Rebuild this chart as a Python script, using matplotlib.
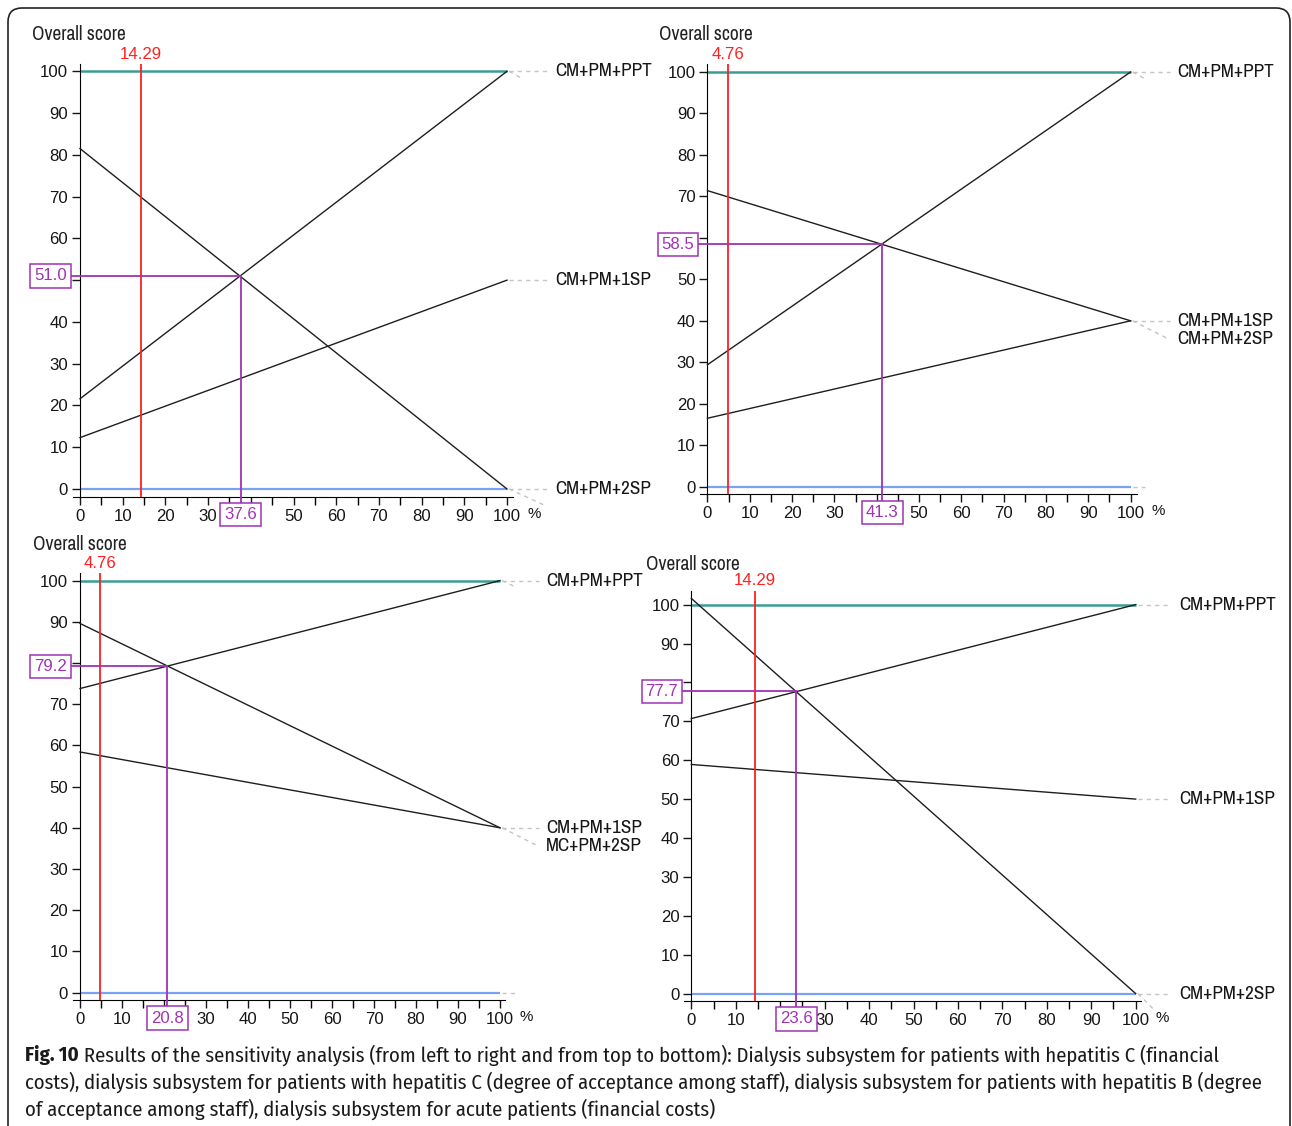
import matplotlib
matplotlib.use('Agg')
import matplotlib.pyplot as plt
from matplotlib import font_manager
from matplotlib.patches import FancyBboxPatch
from matplotlib.transforms import IdentityTransform

# ---- values ----
alternatives = [
    ['CM+PM+PPT', 'CM+PM+1SP', 'CM+PM+2SP'],
    ['CM+PM+PPT', 'CM+PM+1SP', 'CM+PM+2SP'],
    ['CM+PM+PPT', 'CM+PM+1SP', 'MC+PM+2SP'],
    ['CM+PM+PPT', 'CM+PM+1SP', 'CM+PM+2SP'],
]
# overall score at 0 % weight and at 100 % weight
scores_at_0 = [
    [21.6, 12.3, 81.5],
    [29.4, 71.4, 16.5],
    [73.8, 58.4, 89.6],
    [70.7, 58.9, 101.6],
]
scores_at_100 = [
    [100, 50, 0],
    [100, 40, 40],
    [100, 40, 40],
    [100, 50, 0],
]
current_weight = [14.29, 4.76, 4.76, 14.29]
current_weight_labels = ['14.29', '4.76', '4.76', '14.29']
switch_weight = [37.6, 41.3, 20.8, 23.6]
switch_score = [51.0, 58.5, 79.2, 77.7]
best_score = 100
worst_score = 0
x_ticks = list(range(0, 101, 10))
y_ticks = list(range(0, 101, 10))

caption_bold = 'Fig. 10'
caption_lines = [
    ' Results of the sensitivity analysis (from left to right and from top to bottom): Dialysis subsystem for patients with hepatitis C (financial',
    'costs), dialysis subsystem for patients with hepatitis C (degree of acceptance among staff), dialysis subsystem for patients with hepatitis B (degree',
    'of acceptance among staff), dialysis subsystem for acute patients (financial costs)',
]

# ---- layout (pixels of the 1292x1126 picture) ----
W, H = 1292, 1126
panels = [
    dict(x0=80, sx=4.27, y0=489, sy=4.177, xlim=(-1.7, 101.5), ylim=(-1.9, 101.7),
         lab_x=111.2, lab_y=[100, 50, 0], title=(32, 35),
         stubs=[(100, 103.5, 98.3), (0, 109, -4)]),
    dict(x0=707.4, sx=4.232, y0=486.7, sy=4.147, xlim=(-1.7, 101.5), ylim=(-1.8, 101.9),
         lab_x=111.0, lab_y=[100, 40, 35.5], title=(659, 35),
         stubs=[(100, 103.5, 98.3), (0, 103.5, 0)]),
    dict(x0=80, sx=4.2, y0=992.6, sy=4.12, xlim=(-1.7, 101.2), ylim=(-1.8, 101.8),
         lab_x=111.0, lab_y=[100, 40, 35.5], title=(33, 545),
         stubs=[(100, 104, 98.3), (0, 103.5, 0)]),
    dict(x0=691.3, sx=4.444, y0=993.6, sy=3.89, xlim=(-1.7, 101.2), ylim=(-1.9, 103.5),
         lab_x=109.7, lab_y=[100, 50, 0], title=(646, 564),
         stubs=[(0, 104, -4)]),
]

have = {f.name for f in font_manager.fontManager.ttflist}
narrow_font = [f for f in ['Archivo Narrow', 'PT Sans Narrow', 'Roboto Condensed'] if f in have][:1] + ['DejaVu Sans']
digit_font = ['Liberation Sans', 'DejaVu Sans']
cap_font = [f for f in ['Fira Sans Condensed', 'PT Sans Narrow'] if f in have][:1] + ['DejaVu Sans']
plt.rcParams['font.family'] = digit_font

TEAL = '#3a9c96'
BLUE = '#7aa2f4'
RED = '#ff2020'
PURPLE = '#a032b4'
LEADER = '#c4c4c4'
INK = '#161616'

fig = plt.figure(figsize=(W / 100, H / 100), dpi=100)
renderer = fig.canvas.get_renderer()


def fit_size(text, width, **kw):
    t = fig.text(0, 0, text, fontsize=12, **kw)
    w = t.get_window_extent(renderer).width
    t.remove()
    return 12 * width / w


fs_lab = fit_size('CM+PM+PPT', 97, family=narrow_font)
fs_title = fit_size('Overall score', 94, family=narrow_font)
fs_num = fit_size('100', 28, family=digit_font)

for i, g in enumerate(panels):
    left = g['x0'] + g['xlim'][0] * g['sx']
    right = g['x0'] + g['xlim'][1] * g['sx']
    bottom = g['y0'] - g['ylim'][0] * g['sy']
    top = g['y0'] - g['ylim'][1] * g['sy']
    ax = fig.add_axes([left / W, 1 - bottom / H, (right - left) / W, (bottom - top) / H])
    ax.set_xlim(g['xlim'])
    ax.set_ylim(g['ylim'])
    ax.patch.set_alpha(0)
    ax.spines['top'].set_visible(False)
    ax.spines['right'].set_visible(False)
    ax.spines['left'].set_position(('data', 0))

    xs, ys = switch_weight[i], switch_score[i]
    # tick labels hidden under the switch-point boxes are left out
    hide_x = min(x_ticks, key=lambda t: abs(t - xs))
    hide_y = min(y_ticks, key=lambda t: abs(t - ys))
    ax.set_xticks(x_ticks, ['' if t == hide_x else str(t) for t in x_ticks])
    ax.set_xticks([t + 5 for t in x_ticks[:-1]], minor=True)
    ax.set_yticks(y_ticks, ['' if t == hide_y else str(t) for t in y_ticks])
    ax.tick_params(direction='out', length=5.5, width=1, labelsize=fs_num, pad=3,
                   colors=INK)
    ax.tick_params(which='minor', length=5.5, width=1)

    # reference lines (best / worst)
    ax.hlines(best_score, 0, 100, color=TEAL, lw=1.8, zorder=2)
    ax.hlines(worst_score, 0, 100, color=BLUE, lw=1.6, zorder=2)

    # alternatives
    for name, s0, s1, ly in zip(alternatives[i], scores_at_0[i], scores_at_100[i], g['lab_y']):
        ax.plot([0, 100], [s0, s1], color='#1e1e1e', lw=1.0, zorder=3)
        ax.plot([100.5, g['lab_x'] - 1.8], [s1, ly], color=LEADER, lw=1, ls=(0, (3, 3)),
                clip_on=False)
        ax.text(g['lab_x'], ly, name, ha='left', va='center', fontsize=fs_lab, color=INK,
                family=narrow_font, clip_on=False)
    for y_from, x_to, y_to in g['stubs']:
        ax.plot([100.5, x_to], [y_from, y_to], color=LEADER, lw=1, ls=(0, (3, 3)), clip_on=False)

    ax.annotate('%', xy=(g['xlim'][1], g['ylim'][0]), xytext=(21, -17),
                textcoords='offset pixels', ha='center', va='center', fontsize=fs_num * 0.9,
                color=INK, annotation_clip=False)

    # current weight
    ax.axvline(current_weight[i], color=RED, lw=1.3, zorder=4)
    ax.annotate(current_weight_labels[i], xy=(current_weight[i], g['ylim'][1]),
                xytext=(0, 10), textcoords='offset pixels', ha='center', va='center',
                color=RED, fontsize=fs_num, annotation_clip=False)

    # switch point
    ax.plot([-2.2, xs], [ys, ys], color=PURPLE, lw=1.3, zorder=4, clip_on=False)
    ax.plot([xs, xs], [ys, g['ylim'][0] - 2], color=PURPLE, lw=1.3, zorder=4, clip_on=False)
    box = dict(boxstyle='square,pad=0.24', fc='white', ec=PURPLE, lw=1.1)
    ax.annotate('%.1f' % ys, xy=(0, ys), xytext=(-13, 0), textcoords='offset pixels',
                ha='right', va='center', color=PURPLE, fontsize=fs_num, bbox=box,
                zorder=6, annotation_clip=False)
    ax.annotate('%.1f' % xs, xy=(xs, g['ylim'][0]), xytext=(0, -18), textcoords='offset pixels',
                ha='center', va='center', color=PURPLE, fontsize=fs_num, bbox=box,
                zorder=6, annotation_clip=False)

    fig.text(g['title'][0] / W, 1 - g['title'][1] / H, 'Overall score', ha='left',
             va='center', fontsize=fs_title, color='#222222', family=narrow_font)

# frame round the figure
frame = FancyBboxPatch((8, -30), W - 10, H - 8 + 30, boxstyle='round,pad=0,rounding_size=14',
                       transform=IdentityTransform(), fill=False, ec='#222222', lw=1.2)
fig.add_artist(frame)

# caption, fitted to the width of its second line
cap_size = fit_size(caption_lines[1], 1247, family=cap_font)
line_y = [1055, 1082, 1109]
bold = fig.text(25 / W, 1 - line_y[0] / H, caption_bold, fontsize=cap_size, fontweight='bold',
                family=cap_font, va='center', color='#1a1a1a')
bx = bold.get_window_extent(renderer).x1
fig.text(bx / W, 1 - line_y[0] / H, caption_lines[0], fontsize=cap_size, family=cap_font,
         va='center', color='#1a1a1a')
for txt, y in zip(caption_lines[1:], line_y[1:]):
    fig.text(25 / W, 1 - y / H, txt, fontsize=cap_size, family=cap_font, va='center',
             color='#1a1a1a')

fig.savefig('out.png', dpi=100)
